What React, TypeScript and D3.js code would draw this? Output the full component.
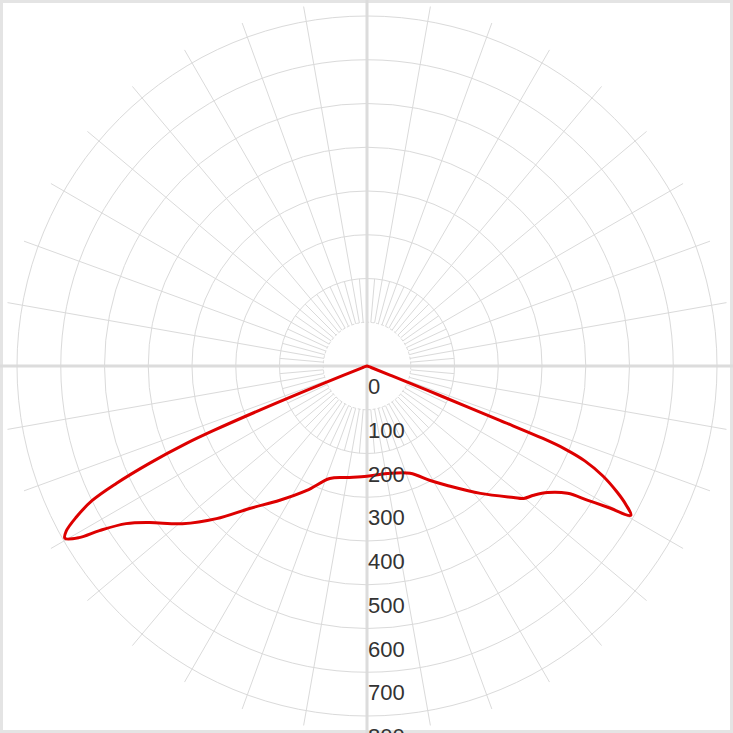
import React from "react";
import * as d3 from "d3";

// Ring values (cd) and labels
const ringValues = [100, 200, 300, 400, 500, 600, 700, 800];
const labelValues = [0, 100, 200, 300, 400, 500, 600, 700, 800];

// Gamma angle (deg, 0 = straight down, + = right) and luminous intensity (cd)
const gammaDeg = [
  -90, -75, -70, -68.6, -67.8, -67.2, -66.8, -65.9, -64.9, -63.9, -62.5, -61.2, -60.3,
  -59.2, -58.4, -56.8, -54.3, -49.5, -44.6, -39.5, -33, -25.8, -18.3, -10.2,
  0, 10.6, 21.9, 28.9, 33.9, 41.7, 48.1, 49.8, 52.2, 55, 57.6, 58.7, 59.6, 60.5,
  61.8, 63.25, 65.0, 66.46, 67.25, 67.61, 67.75, 68.0, 68.5, 70, 75, 90,
];
const intensity = [
  0, 3, 12, 60, 220, 380, 449, 545, 633, 700, 750, 785, 795,
  766, 718, 658, 613, 555, 490, 422, 366, 316, 271, 259,
  252, 250, 264, 299, 329, 390, 450, 469, 482, 504, 543, 591, 638, 693,
  672, 640, 595, 543, 491, 435, 328, 180, 60, 10, 3, 0,
];

const W = 733;
const H = 733;
const cx = 367;
const cy = 366;

export default function App() {
  const r = d3.scaleLinear().domain([0, 800]).range([0, 350]);
  const toRad = (g: number) => (g * Math.PI) / 180;

  const pts: [number, number][] = gammaDeg.map((g, i) => [Math.PI - toRad(g), r(intensity[i])]);
  const line = d3.lineRadial<[number, number]>()
    .angle((d) => d[0])
    .radius((d) => d[1])
    .curve(d3.curveCatmullRom.alpha(0.5));
  const pathD = (line(pts) || "") + "Z";

  const gridColor = "#dadada";
  const rInner = r(100);
  const rMid = r(200);
  const rOuter = 365;

  const spokes10 = d3.range(0, 360, 10).filter((a) => a % 90 !== 0);
  const spokes5 = d3.range(5, 360, 10);

  const polar = (deg: number, rad: number) => [
    cx + rad * Math.sin(toRad(deg)),
    cy - rad * Math.cos(toRad(deg)),
  ];

  return (
    <svg
      width={W}
      height={H}
      style={{ position: "fixed", left: 0, top: 0, background: "#fff" }}
    >
      <rect x={1.5} y={1.5} width={W - 3} height={H - 3} fill="#fff" stroke="#e4e4e4" strokeWidth={3} />
      {/* axes */}
      <line x1={0} x2={W} y1={cy} y2={cy} stroke="#dcdcdc" strokeWidth={3} />
      <line x1={cx} x2={cx} y1={0} y2={H} stroke="#dcdcdc" strokeWidth={3} />
      {/* spokes */}
      {spokes10.map((a) => {
        const [x1, y1] = polar(a, rInner);
        const [x2, y2] = polar(a, rOuter);
        return <line key={"s" + a} x1={x1} y1={y1} x2={x2} y2={y2} stroke={gridColor} strokeWidth={1} />;
      })}
      {spokes5.map((a) => {
        const [x1, y1] = polar(a, rInner);
        const [x2, y2] = polar(a, rMid);
        return <line key={"f" + a} x1={x1} y1={y1} x2={x2} y2={y2} stroke={gridColor} strokeWidth={1} />;
      })}
      {/* rings */}
      {ringValues.map((v) => (
        <circle
          key={"r" + v}
          cx={cx}
          cy={cy}
          r={r(v)}
          fill="none"
          stroke={gridColor}
          strokeWidth={1}
          strokeDasharray={v === 100 ? "3,2" : undefined}
        />
      ))}
      {/* curve */}
      <path
        d={pathD}
        transform={`translate(${cx},${cy})`}
        fill="none"
        stroke="#dd0000"
        strokeWidth={3}
        strokeLinejoin="round"
      />
      {/* labels */}
      {labelValues.map((v) => (
        <text
          key={"l" + v}
          x={368}
          y={cy + r(v) + 28}
          fontFamily="'Liberation Sans', Arial, sans-serif"
          fontSize={22}
          fill="#333"
        >
          {v}
        </text>
      ))}
    </svg>
  );
}
